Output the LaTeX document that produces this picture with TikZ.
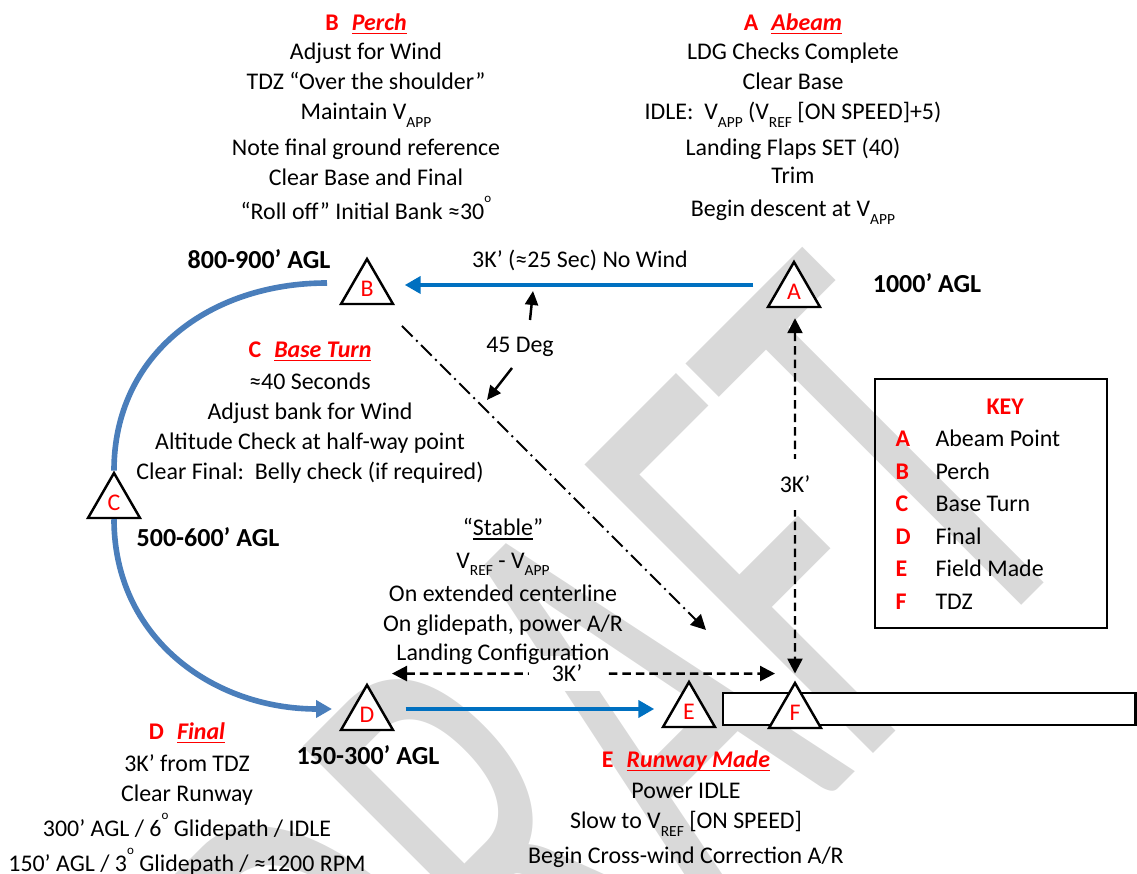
\documentclass[tikz,border=0pt]{standalone}
\usepackage{fontspec}
\setmainfont{Carlito}
\usepackage{graphicx}
\usetikzlibrary{arrows.meta, shapes.geometric}

\definecolor{wmgray}{RGB}{217,217,217}
\definecolor{legblue}{RGB}{0,112,192}
\definecolor{turnblue}{RGB}{74,126,187}

\newcommand{\lowtag}[1]{\raisebox{-4.5pt}{\fontsize{8.8}{8.8}\selectfont #1}}
\newcommand{\degsup}{\raisebox{9.5pt}{\fontsize{7.4}{7.4}\selectfont o}}
\newcommand{\uln}[1]{\setbox0\hbox{#1}\rlap{\rule[-2.4pt]{\wd0}{0.8pt}}\box0}
\newcommand{\ttl}[2]{{\color{red}\textbf{#1}\hspace{0.55em}\uln{\textbf{\textit{#2}}}}}

\begin{document}
\begin{tikzpicture}[x=0.02cm, y=-0.02cm,
  font=\fontsize{13.6}{17}\selectfont,
  pt/.style={regular polygon, regular polygon sides=3, draw, line width=1.4pt,
    fill=white, minimum size=1.2cm, inner sep=0pt, text=red},
  blk/.style={align=center, inner sep=0pt, anchor=north},
  agl/.style={font=\fontsize{14.8}{17}\selectfont\bfseries, inner sep=0pt, anchor=base},
  leg/.style={draw=legblue, line width=2.8pt, -{Triangle[length=0.32cm, width=0.34cm]}},
  turn/.style={draw=turnblue, line width=3.2pt},
  dist/.style={line width=1.4pt, dash pattern=on 0.17cm off 0.1cm,
    {Triangle[length=0.3cm, width=0.3cm]}-{Triangle[length=0.3cm, width=0.3cm]}},
  diag/.style={line width=1.2pt, dash pattern=on 0.3cm off 0.1cm on 0.04cm off 0.1cm,
    -{Triangle[length=0.3cm, width=0.3cm]}},
  tick/.style={line width=1.4pt, -{Triangle[length=0.28cm, width=0.26cm]}},
  lbl/.style={fill=white, inner sep=0pt}]
\useasboundingbox (0,0) rectangle (1137,874);

% watermark
\begin{scope}
\clip (0,0) rectangle (1137,874);
\node[rotate=45, anchor=base east, inner sep=0pt, text=wmgray] (wm) at (1095,532)
  {\scalebox{0.56}[1]{\fontsize{362}{362}\selectfont DRAFT}};
\end{scope}

% runway
\draw[line width=1.4pt, fill=white] (723,693) rectangle (1135.5,725);

% pattern points
\node[pt] (A) at (794,292) {A};
\node[pt] (B) at (367,289) {B};
\node[pt] (C) at (114,503) {C};
\node[pt] (D) at (367,715) {D};
\node[pt] (E) at (689,712) {E};
\node[pt] (F) at (795,713) {F};

% legs
\draw[leg] ([shift={(-22,-7)}]A.west) -- ([shift={(19,-4)}]B.east);
\draw[leg] ([shift={(20,-6)}]D.east) -- ([shift={(-16,-3)}]E.west);
\draw[turn] ([shift={(-40,-6)}]B.center) to[out=180, in=90, looseness=1.05] (C.north);
\draw[turn, -{Triangle[length=0.32cm, width=0.34cm]}] (C.south) to[out=270, in=180, looseness=1.05] ([shift={(-35,-6)}]D.center);

% distances
\draw[dist] ([shift={(1,10)}]A.south) -- node[lbl, pos=0.468, inner ysep=0.34cm, inner xsep=2pt] {3K’} ([shift={(0,-7)}]F.north);
\draw[dist] ([shift={(25,-9)}]D.north) -- node[lbl, pos=0.457, minimum width=1.54cm, minimum height=0.7cm] {3K’} ([shift={(-20,-7)}]F.north);

% 45 degree line
\coordinate (aim) at (706,630);
\draw[diag] ([shift={(35,37)}]B.center) -- (aim);
\node[inner sep=0pt, anchor=base] (deg) at (520,353) {45 Deg};
\coordinate (degup) at (533,291);
\coordinate (degdn) at (487,400);
\draw[tick] ([shift={(10,-33)}]deg.base) -- (degup);
\draw[tick] ([shift={(-8,15)}]deg.base) -- (degdn);

% labels
\node[inner sep=0pt, anchor=base] (leglbl) at (580,268) {3K’ (≈25 Sec) No Wind};
\node[agl] (agl800) at (259,269) {800-900’ AGL};
\node[agl] (agl1000) at (927,293) {1000’ AGL};
\node[agl] (agl500) at (208,547) {500-600’ AGL};
\node[agl] (agl150) at (368,765) {150-300’ AGL};

% text blocks
\node[blk] (perch) at (366,13) {\ttl{B}{Perch}\\ Adjust for Wind\\ TDZ “Over the shoulder”\\
  Maintain V\lowtag{APP}\\[3.5pt] Note final ground reference\\ Clear Base and Final\\[2.3pt]
  “Roll off” Initial Bank ≈30\degsup};
\node[blk] (abeam) at (793,13) {\ttl{A}{Abeam}\\ LDG Checks Complete\\ Clear Base\\
  IDLE:\ \ V\lowtag{APP} (V\lowtag{REF} [ON SPEED]+5)\\[3.5pt] Landing Flaps SET (40)\\[-1.2pt]
  Trim\\[1.8pt] Begin descent at V\lowtag{APP}};
\node[blk] (baseturn) at (310,341) {\ttl{C}{Base Turn}\\[1.5pt] ≈40 Seconds\\ Adjust bank for Wind\\
  Altitude Check at half-way point\\ Clear Final:\ \ Belly check (if required)};
\node[blk] (stable) at (503,518) {“\uln{Stable}”\\[1.5pt] V\lowtag{REF} - V\lowtag{APP}\\[2pt]
  On extended centerline\\ On glidepath, power A/R\\[-0.5pt] Landing Configuration};
\node[blk] (final) at (187,722) {\ttl{D}{Final}\\[1.5pt] 3K’ from TDZ\\ Clear Runway\\[3pt]
  300’ AGL / 6\degsup\ Glidepath / IDLE\\[2.6pt] 150’ AGL / 3\degsup\ Glidepath / ≈1200 RPM};
\node[blk] (made) at (686,750) {\ttl{E}{Runway Made}\\[1pt] Power IDLE\\
  Slow to V\lowtag{REF} [ON SPEED]\\[3pt] Begin Cross-wind Correction A/R};

% key
\node[draw, line width=0.9pt, minimum width=4.64cm, minimum height=4.98cm, inner sep=0pt] (key) at (991,503.5) {};
\node[anchor=north west, inner sep=0pt, font=\fontsize{13.6}{18.5}\selectfont] (keytxt)
  at ([shift={(21,12.7)}]key.north west) {%
  \begin{tabular}{@{}p{0.8cm}@{}l@{}}
  \multicolumn{2}{@{\hspace{1.82cm}}l@{}}{\color{red}\bfseries KEY}\\
  \textcolor{red}{\textbf{A}} & Abeam Point\\
  \textcolor{red}{\textbf{B}} & Perch\\
  \textcolor{red}{\textbf{C}} & Base Turn\\
  \textcolor{red}{\textbf{D}} & Final\\
  \textcolor{red}{\textbf{E}} & Field Made\\
  \textcolor{red}{\textbf{F}} & TDZ
  \end{tabular}};
\end{tikzpicture}
\end{document}
